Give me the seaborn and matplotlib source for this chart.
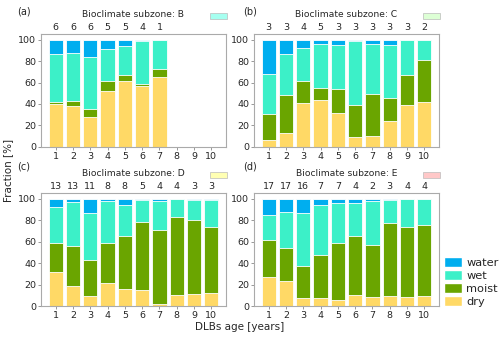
import numpy as np
import pandas as pd
import seaborn as sns
import matplotlib
matplotlib.use("Agg")
import matplotlib.pyplot as plt
from matplotlib.patches import Patch, Rectangle

sns.set_theme(style="white")
plt.rcParams['font.family'] = ['DejaVu Sans']

ages = [str(i) for i in range(1, 11)]
classes = ["dry", "moist", "wet", "water"]

zone_names = ["B", "C", "D", "E"]
panel_labels = ["(a)", "(b)", "(c)", "(d)"]

# fractions [%] per DLB age, per class
B_dry = [40, 38, 28, 52, 61, 57, 65]
B_moist = [2, 5, 7, 9, 6, 2, 8]
B_wet = [45, 45, 49, 30, 27, 40, 27]
B_water = [13, 12, 16, 9, 6, 1, 0]
B_n = [6, 6, 6, 5, 5, 4, 1]

C_dry = [6, 13, 41, 44, 32, 9, 10, 24, 39, 42]
C_moist = [25, 35, 20, 11, 22, 30, 39, 22, 28, 39]
C_wet = [37, 39, 31, 41, 41, 60, 47, 49, 33, 19]
C_water = [32, 13, 8, 4, 5, 1, 4, 5, 0, 0]
C_n = [3, 3, 4, 5, 3, 3, 3, 3, 3, 2]

D_dry = [32, 19, 9, 21, 16, 15, 2, 10, 11, 12]
D_moist = [27, 37, 34, 38, 49, 63, 69, 73, 69, 62]
D_wet = [33, 41, 44, 39, 29, 21, 27, 16.5, 19, 25]
D_water = [8, 3, 13, 2, 6, 1, 2, 0.5, 1, 1]
D_n = [13, 13, 11, 8, 8, 5, 4, 4, 3, 3]

E_dry = [27, 23, 7, 7, 6, 10, 8, 9, 8, 9]
E_moist = [35, 31, 30, 41, 53, 55, 49, 68, 66, 67]
E_wet = [23, 34, 50, 46, 37, 31, 41, 22, 26, 24]
E_water = [15, 12, 13, 6, 4, 4, 2, 1, 0, 0]
E_n = [17, 17, 16, 7, 7, 4, 2, 3, 4, 4]

zones = {
    "B": (B_dry, B_moist, B_wet, B_water, B_n),
    "C": (C_dry, C_moist, C_wet, C_water, C_n),
    "D": (D_dry, D_moist, D_wet, D_water, D_n),
    "E": (E_dry, E_moist, E_wet, E_water, E_n),
}

colors = {"water": "#00AEEF", "wet": "#3CF0C8", "moist": "#6AA500", "dry": "#FFD966"}
zone_colors = {"B": "#A6FFF0", "C": "#DDFFD5", "D": "#FFFFB3", "E": "#FFC8C8"}

fig = plt.figure(figsize=(5, 3.4), dpi=100)
positions = [
    [0.082, 0.568, 0.37, 0.333],
    [0.508, 0.568, 0.37, 0.333],
    [0.082, 0.100, 0.37, 0.333],
    [0.508, 0.100, 0.37, 0.333],
]
label_xy = [(0.035, 0.966), (0.487, 0.966), (0.035, 0.51), (0.487, 0.51)]
spine_col = "#aaaaaa"
text_col = "#262626"

for k, z in enumerate(zone_names):
    ax = fig.add_axes(positions[k])
    dry, moist, wet, water, n = zones[z]
    m = len(dry)
    df = pd.DataFrame({
        "age": ages[:m],
        "dry": dry, "moist": moist, "wet": wet, "water": water,
    })
    df["c_dry"] = df["dry"]
    df["c_moist"] = df["c_dry"] + df["moist"]
    df["c_wet"] = df["c_moist"] + df["wet"]
    df["c_water"] = df["c_wet"] + df["water"]
    for cls in ["water", "wet", "moist", "dry"]:
        sns.barplot(data=df, x="age", y="c_" + cls, order=ages, color=colors[cls],
                    width=0.82, edgecolor="white", linewidth=0.6, saturation=1,
                    ax=ax, errorbar=None)
    ax.set_xlim(-0.85, 9.85)
    ax.set_ylim(0, 105.6)
    ax.set_yticks([0, 20, 40, 60, 80, 100])
    ax.set_xlabel("")
    ax.set_ylabel("")
    ax.tick_params(axis="both", labelsize=6.8, colors=text_col, length=2, width=0.6,
                   pad=1.5, direction="out", color="#888888")
    ax.tick_params(left=True, bottom=True)
    for s in ax.spines.values():
        s.set_color(spine_col)
        s.set_linewidth(0.8)
    # counts above bars
    for i in range(m):
        ax.text(i, 107.0, str(n[i]), ha="center", va="bottom", fontsize=6.8, color=text_col)
    ax.text(0.5, 1.168, "Bioclimate subzone: " + z, transform=ax.transAxes,
            ha="center", va="center", fontsize=6.6, color=text_col)
    ax.add_patch(Rectangle((0.914, 1.13), 0.09, 0.053, transform=ax.transAxes,
                           facecolor=zone_colors[z], edgecolor="#bbbbbb", linewidth=0.5,
                           clip_on=False))
    fig.text(label_xy[k][0], label_xy[k][1], panel_labels[k], fontsize=7, color=text_col,
             ha="left", va="center")
    if k == 3:
        handles = [Patch(facecolor=colors[c], edgecolor="white") for c in ["water", "wet", "moist", "dry"]]
        fig.legend(handles, ["water", "wet", "moist", "dry"], loc="center left",
                   bbox_to_anchor=(0.878, 0.17), frameon=False, fontsize=8.2,
                   handlelength=1.6, handleheight=0.9, handletextpad=0.4,
                   labelspacing=0.2, borderaxespad=0)

fig.text(0.48, 0.038, "DLBs age [years]", ha="center", va="center", fontsize=7.5, color=text_col)
fig.text(0.016, 0.5, "Fraction [%]", ha="center", va="center", rotation=90, fontsize=7.5, color=text_col)

fig.savefig("out.png", dpi=100)
